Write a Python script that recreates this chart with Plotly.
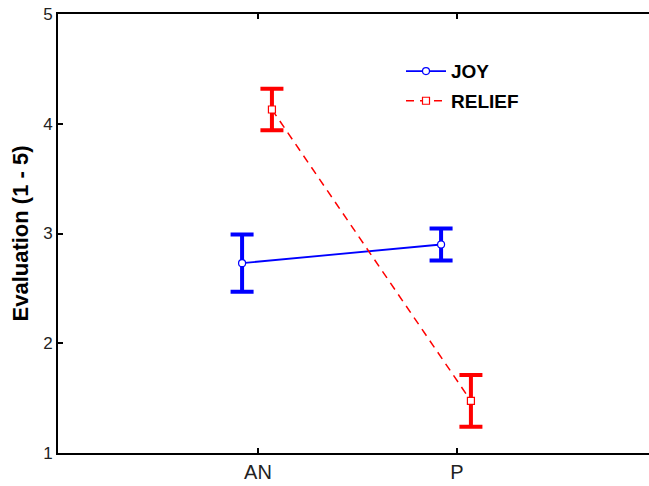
import plotly.graph_objects as go

categories = ["AN", "P"]
cat_pos = [0, 1]
joy_mean = [2.73, 2.90]
joy_err = [0.26, 0.146]
relief_mean = [4.13, 1.475]
relief_err = [0.19, 0.235]
y_ticks = [1, 2, 3, 4, 5]

JOY_OFF = -0.08
REL_OFF = 0.07
FONT = "Arial, Liberation Sans, sans-serif"

fig = go.Figure()
fig.add_trace(go.Scatter(
    x=[p + JOY_OFF for p in cat_pos], y=joy_mean, name="JOY",
    legendgroup="joy",
    mode="lines+markers",
    line=dict(color="#0000ff", width=1.8),
    marker=dict(symbol="circle", size=7, color="white",
                line=dict(color="#0000ff", width=1.2)),
    error_y=dict(type="data", array=joy_err, color="#0000ff",
                 thickness=4, width=11.5),
))
fig.add_trace(go.Scatter(
    x=[p + REL_OFF for p in cat_pos], y=relief_mean, name="RELIEF",
    legendgroup="relief",
    mode="lines+markers",
    line=dict(color="#ff0000", width=1.5, dash="8px,6px"),
    marker=dict(symbol="square", size=7, color="white",
                line=dict(color="#ff0000", width=1.2)),
    error_y=dict(type="data", array=relief_err, color="#ff0000",
                 thickness=4, width=11.5),
))

W = 662
fig.update_layout(
    width=W, height=486,
    margin=dict(l=58, r=0, t=14, b=33),
    paper_bgcolor="white", plot_bgcolor="white",
    font=dict(family=FONT, color="#222222"),
    showlegend=True,
    legend=dict(x=(401 - 58) / (W - 58), y=0.913, xanchor="left", yanchor="top",
                bgcolor="rgba(0,0,0,0)", itemwidth=40,
                font=dict(size=19, color="black", family=FONT, weight="bold"),
                traceorder="grouped", tracegroupgap=2),
    xaxis=dict(range=[-1.005, -1.005 + (W - 58) / 199.0], tickvals=cat_pos, ticktext=categories,
               showgrid=False, zeroline=False, showline=True,
               linecolor="black", linewidth=2, mirror="allticks",
               ticks="inside", ticklen=5, tickcolor="black", tickwidth=1.5,
               tickfont=dict(size=20, color="#222222")),
    yaxis=dict(range=[1, 5], tickvals=y_ticks,
               showgrid=False, zeroline=False, showline=True,
               linecolor="black", linewidth=2, mirror=False,
               ticks="inside", ticklen=5, tickcolor="black", tickwidth=1.5,
               tickfont=dict(size=17, color="#222222"),
               title=dict(text="Evaluation (1 - 5)", standoff=8,
                          font=dict(size=22, color="black", family=FONT, weight="bold"))),
)

fig.write_html(
    "out.html",
    config={"displayModeBar": False},
    post_script="document.body.style.margin='0';document.body.style.overflow='hidden';",
)
